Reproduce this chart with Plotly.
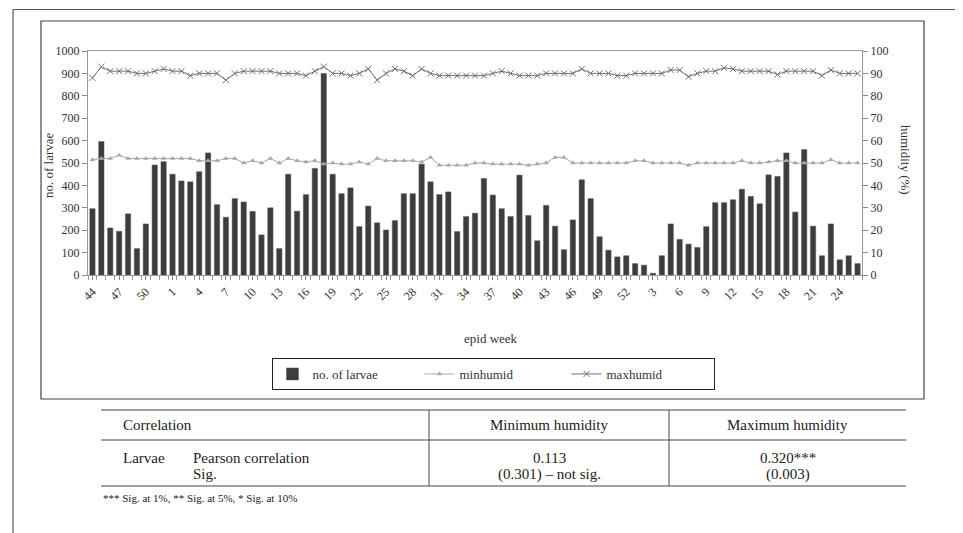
import plotly.graph_objects as go

# ---------------- data ----------------
weeks = [44, 45, 46, 47, 48, 49, 50, 51, 52] + list(range(1, 53)) + list(range(1, 27))
larvae = [296, 596, 210, 195, 273, 118, 228, 491, 506,
          450, 420, 416, 461, 545, 314, 258, 341, 326, 284, 179, 300, 118, 450, 285, 359, 476, 900,
          450, 363, 389, 216, 308, 233, 201, 243, 363, 363, 495, 416, 359, 371, 194, 261, 276, 431,
          357, 296, 261, 446, 266, 153, 311, 218, 113, 246, 425, 341, 171, 111, 81, 86,
          51, 44, 8, 86, 228, 159, 138, 123, 216, 323, 323, 336, 383, 351, 318, 447, 440, 545,
          281, 560, 218, 86, 228, 68, 86, 51]
minhumid = [51.5, 52, 52, 53.5, 52, 52, 52, 52, 52,
            52, 52, 52, 51, 51, 51, 52, 52, 50, 51, 50, 52, 50, 52, 51, 50.5, 51, 49.5,
            50, 49.5, 49.5, 50.5, 49.5, 52, 51, 51, 51, 51, 50.5, 52.5, 49, 49, 49, 49, 50, 50,
            49.5, 49.5, 49.5, 49.5, 49, 49.5, 50, 52.5, 52.5, 50, 50, 50, 50, 50, 50, 50,
            51, 51, 50, 50, 50, 50, 49, 50, 50, 50, 50, 50, 51, 50, 50, 50.5, 51, 51,
            50, 50, 50, 50, 51.5, 50, 50, 50]
maxhumid = [88, 93, 91, 91, 91, 90, 90, 91, 92,
            91, 91, 89, 90, 90, 90, 87, 90, 91, 91, 91, 91, 90, 90, 90, 89, 91, 93,
            90, 90, 89, 90, 92, 87, 90, 92, 91, 89, 92, 90, 89, 89, 89, 89, 89, 89,
            90, 91, 90, 89, 89, 89, 90, 90, 90, 90, 92, 90, 90, 90, 89, 89,
            90, 90, 90, 90, 91.5, 91.5, 88.5, 90, 91, 91, 92.5, 92, 91, 91, 91, 91, 89.5, 91,
            91, 91, 91, 89, 91.5, 90, 90, 90]

tbl_header = ["Correlation", "Minimum humidity", "Maximum humidity"]
tbl_row_a = ["Larvae", "Pearson correlation", "Sig."]
tbl_min = ["0.113", "(0.301) \u2013 not sig."]
tbl_max = ["0.320***", "(0.003)"]
footnote = "*** Sig. at 1%, ** Sig. at 5%, * Sig. at 10%"

# ---------------- geometry helpers (pixel -> paper) ----------------
L, R, T, B = 80, 854, 43, 267
W, H = 963, 533
def px(x):
    return (x - L) / (R - L)
def py(y):
    return (B - y) / (B - T)

FONT = "Liberation Serif, Times New Roman, serif"
idx = list(range(len(weeks)))

fig = go.Figure()
fig.add_trace(go.Bar(x=idx, y=larvae, name="no. of larvae", width=0.6,
                     marker=dict(color="#3d3d3d", line=dict(color="#5a5a5a", width=0.5))))
fig.add_trace(go.Scatter(x=idx, y=minhumid, name="minhumid", yaxis="y2", mode="lines+markers",
                         line=dict(color="#a8a8a8", width=1),
                         marker=dict(symbol="triangle-up", size=5, color="#a8a8a8")))
fig.add_trace(go.Scatter(x=idx, y=maxhumid, name="maxhumid", yaxis="y2", mode="lines+markers",
                         line=dict(color="#6e6e6e", width=1),
                         marker=dict(symbol="x-thin", size=6, color="#6e6e6e",
                                     line=dict(color="#6e6e6e", width=1))))

tickvals = [i for i in idx if i % 3 == 0]
ticktext = [str(weeks[i]) for i in tickvals]

axis_font = dict(family=FONT, size=12, color="#333")
fig.update_layout(
    width=W, height=H,
    margin=dict(l=L, r=W - R, t=T, b=H - B, pad=0),
    paper_bgcolor="white", plot_bgcolor="white",
    font=dict(family=FONT, size=12, color="#222"),
    bargap=0.4,
    xaxis=dict(range=[-0.5, len(idx) - 0.5], tickvals=tickvals, ticktext=ticktext,
               tickangle=-45, ticks="outside", ticklen=4, tickcolor="#888",
               showline=True, linecolor="#999", linewidth=1, mirror=True,
               showgrid=False, zeroline=False, tickfont=axis_font,
               minor=dict(tick0=-0.5, dtick=1, ticks="outside", ticklen=4, tickcolor="#999")),
    yaxis=dict(range=[0, 1000], dtick=100, ticks="outside", ticklen=5, tickcolor="#888",
               showline=True, linecolor="#999", linewidth=1, showgrid=False, zeroline=False,
               tickfont=axis_font),
    yaxis2=dict(range=[0, 100], dtick=10, overlaying="y", side="right", ticks="outside",
                ticklen=5, tickcolor="#888", showline=True, linecolor="#999", linewidth=1,
                showgrid=False, zeroline=False, tickfont=axis_font),
    legend=dict(orientation="h", x=px(485), y=py(350), xanchor="center", yanchor="top",
                bordercolor="#222", borderwidth=1, bgcolor="white",
                font=dict(family=FONT, size=13, color="#333"), itemwidth=30,
                entrywidth=102, entrywidthmode="pixels", tracegroupgap=0),
    showlegend=True,
)

shapes = []
def line(x0, y0, x1, y1, color="#444", width=1):
    shapes.append(dict(type="line", xref="paper", yref="paper", x0=px(x0), y0=py(y0),
                       x1=px(x1), y1=py(y1), line=dict(color=color, width=width)))

# outer page frame (top and left)
line(5, 1.5, W, 1.5, "#555", 1.2)
line(5, 1.5, 5, H, "#555", 1.2)
# chart box
shapes.append(dict(type="rect", xref="paper", yref="paper", x0=px(33), y0=py(13), x1=px(916), y1=py(391),
                   line=dict(color="#444", width=1.2)))
# table
tx0, tx1 = 93, 898
c1, c2 = 421, 661
line(tx0, 402, tx1, 402, "#444", 1)
line(tx0, 432, tx1, 432, "#444", 1)
line(tx0, 478, tx1, 478, "#444", 1)
line(c1, 402, c1, 478, "#444", 1)
line(c2, 402, c2, 478, "#444", 1)

ann = []
def text(x, y, s, size=15, xanchor="left", angle=0, color="#222"):
    ann.append(dict(xref="paper", yref="paper", x=px(x), y=py(y), text=s, showarrow=False,
                    xanchor=xanchor, yanchor="middle", textangle=angle,
                    font=dict(family=FONT, size=size, color=color)))

text(40, 157, "no. of larvae", 13, "center", -90, "#333")
text(898, 152, "humidity (%)", 13, "center", 90, "#333")
text(483, 330, "epid week", 13, "center", 0, "#333")

text(113, 417, tbl_header[0])
text((c1 + c2) / 2, 417, tbl_header[1], xanchor="center")
text((c2 + tx1) / 2, 417, tbl_header[2], xanchor="center")
text(113, 450, tbl_row_a[0])
text(183, 450, tbl_row_a[1])
text(183, 466, tbl_row_a[2])
text((c1 + c2) / 2, 450, tbl_min[0], xanchor="center")
text((c1 + c2) / 2, 466, tbl_min[1], xanchor="center")
text((c2 + tx1) / 2, 450, tbl_max[0], xanchor="center")
text((c2 + tx1) / 2, 466, tbl_max[1], xanchor="center")
text(93, 490, footnote, 11)

fig.update_layout(shapes=shapes, annotations=ann)
fig.write_html("out.html")
